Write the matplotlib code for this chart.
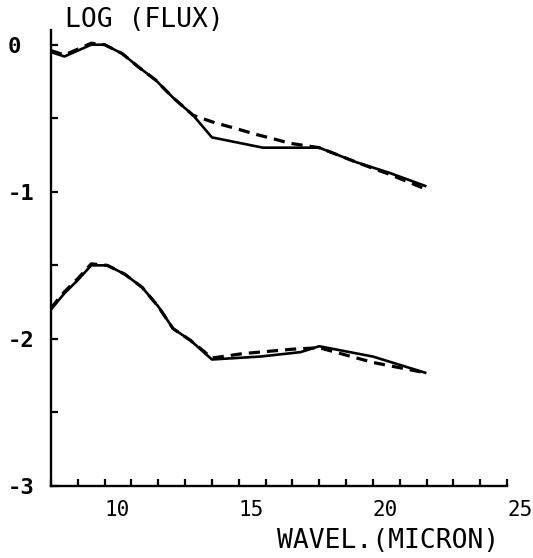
import matplotlib.pyplot as plt
import numpy as np

# upper spectrum: observed (solid) and model (dashed)
wl_up = [8.0, 8.5, 9.0, 9.5, 10.0, 10.65, 11.25, 11.9, 12.55, 13.3, 14.0, 15.9, 17.3, 18.0, 19.4, 20.6, 21.95]
flux_up = [-0.05, -0.08, -0.04, 0.0, 0.0, -0.06, -0.15, -0.24, -0.36, -0.48, -0.63, -0.70, -0.70, -0.70, -0.80, -0.87, -0.96]
wl_up_mod = [8.0, 8.5, 9.0, 9.5, 10.0, 10.65, 11.25, 11.9, 12.55, 13.3, 14.1, 14.9, 15.65, 16.3, 16.9, 18.0, 19.4, 20.6, 21.95]
flux_up_mod = [-0.04, -0.07, -0.03, 0.01, 0.0, -0.06, -0.15, -0.24, -0.36, -0.48, -0.53, -0.57, -0.61, -0.64, -0.67, -0.70, -0.80, -0.88, -0.98]

# lower spectrum
wl_lo = [8.0, 8.5, 9.0, 9.5, 10.1, 10.75, 11.4, 12.0, 12.55, 13.2, 14.0, 15.8, 17.3, 18.0, 20.0, 21.95]
flux_lo = [-1.80, -1.69, -1.60, -1.50, -1.50, -1.56, -1.65, -1.78, -1.93, -2.01, -2.14, -2.12, -2.09, -2.05, -2.12, -2.23]
wl_lo_mod = [8.0, 8.5, 9.0, 9.5, 10.1, 10.75, 11.4, 12.0, 12.55, 13.2, 14.0, 15.15, 17.0, 18.0, 18.8, 20.0, 21.95]
flux_lo_mod = [-1.79, -1.68, -1.59, -1.49, -1.50, -1.56, -1.65, -1.78, -1.93, -2.01, -2.13, -2.10, -2.07, -2.06, -2.10, -2.16, -2.23]

xticks_major = [10, 15, 20, 25]
yticks_major = [0, -1, -2, -3]

W, H = 533, 558
fig = plt.figure(figsize=(W / 100, H / 100), dpi=100)
ax = fig.add_axes([51 / W, 1 - 486 / H, (507 - 51) / W, (486 - 30) / H])

ax.plot(wl_up, flux_up, color='black', lw=1.9)
ax.plot(wl_up_mod, flux_up_mod, color='black', lw=2.3, dashes=(3.5, 2.2))
ax.plot(wl_lo, flux_lo, color='black', lw=1.9)
ax.plot(wl_lo_mod, flux_lo_mod, color='black', lw=2.3, dashes=(3.5, 2.2))

ax.set_xlim(8, 25)
ax.set_ylim(-3, 0.1)

for s in ['top', 'right']:
    ax.spines[s].set_visible(False)
for s in ['left', 'bottom']:
    ax.spines[s].set_linewidth(1.7)

mono = 'DejaVu Sans Mono'

ax.set_xticks(np.arange(8, 26, 1))
ax.set_xticklabels([str(t) if t in xticks_major else '' for t in range(8, 26)],
                   family=mono, fontsize=15, ha='left')
ax.set_yticks(np.arange(-3, 0.01, 0.5))
ax.set_yticklabels([str(int(t)) if t in yticks_major else '' for t in np.arange(-3, 0.01, 0.5)],
                   family=mono, fontsize=16, ha='left', fontweight='bold')
ax.tick_params(axis='x', direction='in', length=5, width=1.6, pad=10)
ax.tick_params(axis='y', direction='in', length=5, width=1.6, pad=31)

fig.text(65 / W, 1 - 20 / H, 'LOG (FLUX)', family=mono, fontsize=19,
         ha='left', va='center')
fig.text(277 / W, 1 - 541 / H, 'WAVEL.(MICRON)', family=mono, fontsize=19,
         ha='left', va='center')

fig.savefig('out.png', dpi=100)
